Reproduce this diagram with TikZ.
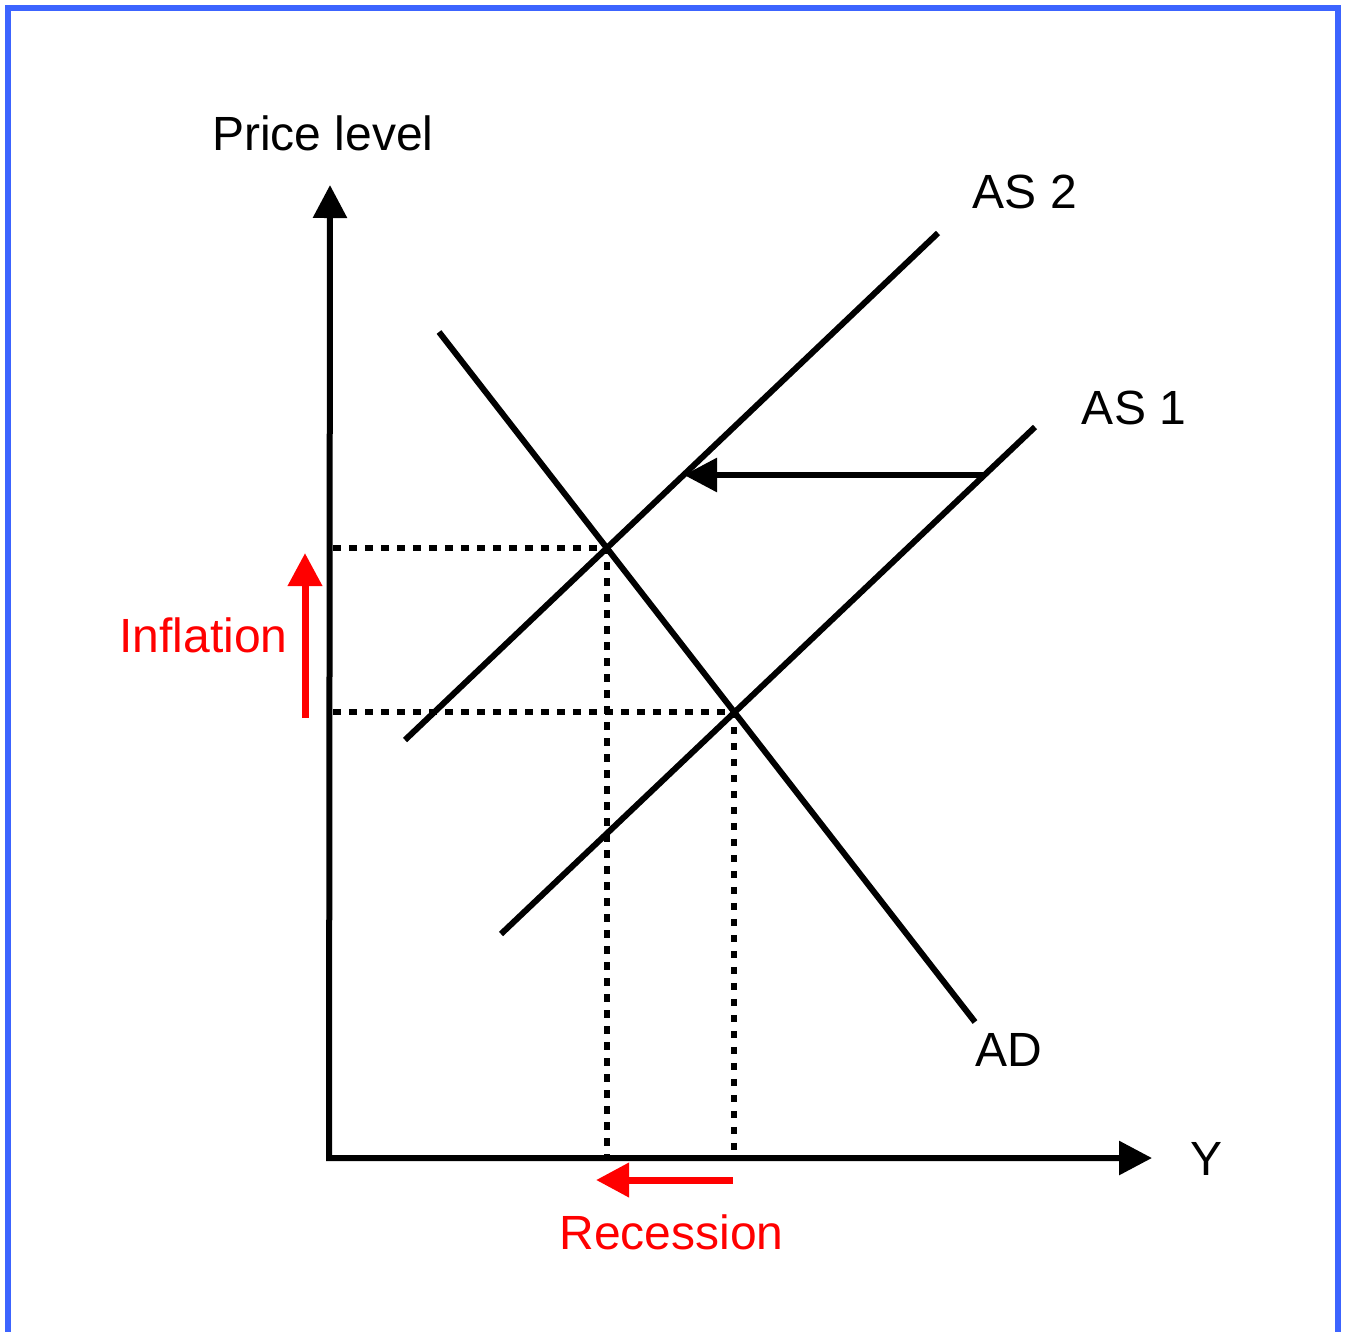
\documentclass[tikz,border=0pt]{standalone}
\usepackage{fontspec}
\setmainfont{Liberation Sans}
\usetikzlibrary{arrows.meta,intersections}
\definecolor{frameblue}{RGB}{60,100,255}
\definecolor{sigred}{RGB}{255,0,0}
\begin{document}
\begin{tikzpicture}[x=1pt,y=-1pt,
  curve/.style={line width=6pt},
  axisline/.style={line width=6pt},
  dotline/.style={line width=6pt,dash pattern=on 7.5pt off 8.5pt},
  bigtip/.style={-{Triangle[length=33pt,width=33pt]}},
  lbl/.style={inner sep=0pt,anchor=base,font=\fontsize{48}{58}\selectfont},
  redlbl/.style={lbl,text=sigred},
]
\useasboundingbox (0,0) rectangle (1348,1331);
\draw[frameblue,line width=6pt] (8,1345) -- (8,8) -- (1338,8) -- (1338,1345);

% axes
\coordinate (ytop) at (330,185);
\coordinate (orig) at (329,1158);
\coordinate (xend) at (1152,1158);
\draw[axisline,{Triangle[length=33pt,width=33pt]}-{Triangle[length=33pt,width=33pt]}] (ytop) -- (orig) -- (xend);

% curves
\coordinate (ad1) at (439,332);  \coordinate (ad2) at (975,1022);
\coordinate (asa1) at (405,740); \coordinate (asa2) at (938,233);
\coordinate (asb1) at (501,934); \coordinate (asb2) at (1035,427);
\draw[curve,name path=ad] (ad1) -- (ad2);
\draw[curve,name path=as2] (asa1) -- (asa2);
\draw[curve,name path=as1] (asb1) -- (asb2);
\path[name intersections={of=ad and as2,by=e1}];
\path[name intersections={of=ad and as1,by=e2}];

% dotted guides
\coordinate (yax) at (333,0);
\coordinate (xax) at (0,1158);
\draw[dotline] (yax |- e1) -- (e1) -- (e1 |- xax);
\draw[dotline] (yax |- e2) -- (e2) -- (e2 |- xax);

% shift arrow
\coordinate (sh1) at (985,475);
\coordinate (sh2) at (684,475);
\draw[curve,bigtip] (sh1) -- (sh2);

% red arrows
\coordinate (inf1) at (305,718);
\coordinate (inf2) at (305,553);
\draw[sigred,line width=7pt,bigtip] (inf1) -- (inf2);
\coordinate (rec1) at (733,1180);
\coordinate (rec2) at (596,1180);
\draw[sigred,line width=7pt,bigtip] (rec1) -- (rec2);

% labels
\node[lbl] (plabel) at (323,150) {Price level};
\node[lbl] (as2lab) at (1025,208) {AS 2};
\node[lbl] (as1lab) at (1134,424) {AS 1};
\node[lbl] (adlab) at (1009,1066) {AD};
\node[lbl] (ylab) at (1206,1175) {Y};
\node[redlbl] (inflab) at (203.5,652) {Inflation};
\node[redlbl] (reclab) at (671.5,1249) {Recession};
\end{tikzpicture}
\end{document}
